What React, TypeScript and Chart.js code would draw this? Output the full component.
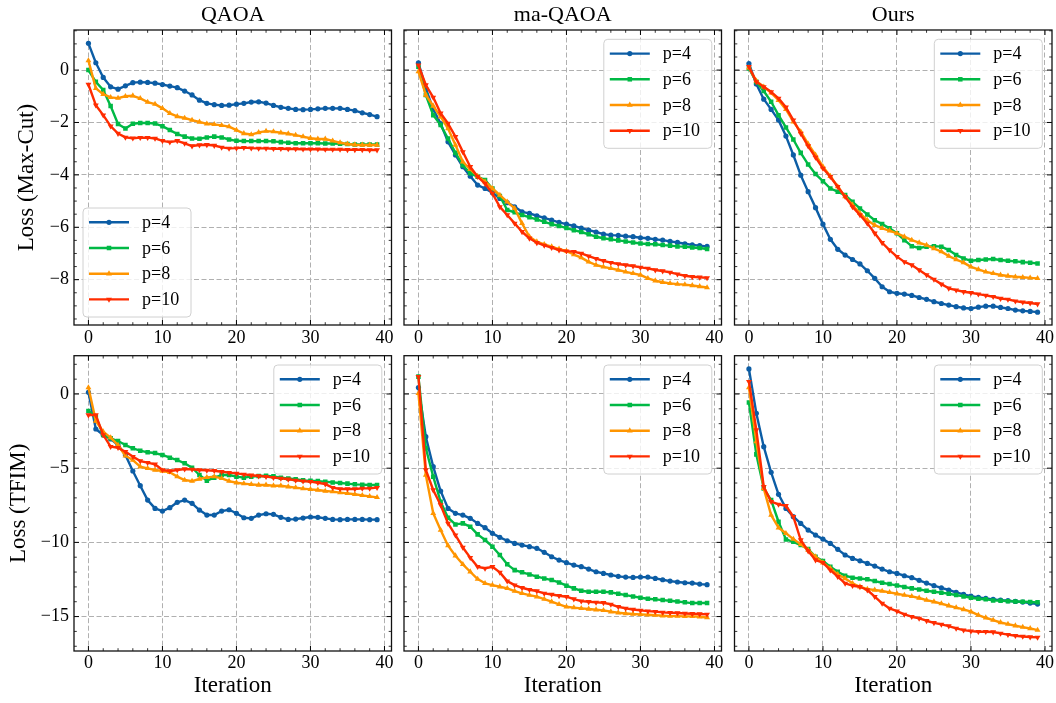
import React, { useEffect, useRef } from 'react';
import { Chart, registerables } from 'chart.js';

Chart.register(...registerables);

// ---------------- data ----------------
const ITERATIONS = [0, 1, 2, 3, 4, 5, 6, 7, 8, 9, 10, 11, 12, 13, 14, 15, 16, 17, 18, 19, 20, 21, 22, 23, 24, 25, 26, 27, 28, 29, 30, 31, 32, 33, 34, 35, 36, 37, 38, 39];
const SERIES_LABELS = ['p=4', 'p=6', 'p=8', 'p=10'];
const PANEL_TITLES = ['QAOA', 'ma-QAOA', 'Ours'];
const ROW_LABELS = ['Loss (Max-Cut)', 'Loss (TFIM)'];
const X_LABEL = 'Iteration';

const X_TICKS = [0, 10, 20, 30, 40];
const X_TICK_LABELS = ['0', '10', '20', '30', '40'];
const Y_TICKS_MAXCUT = [-8, -6, -4, -2, 0];
const Y_TICK_LABELS_MAXCUT = ['\u22128', '\u22126', '\u22124', '\u22122', '0'];
const Y_TICKS_TFIM = [-15, -10, -5, 0];
const Y_TICK_LABELS_TFIM = ['\u221215', '\u221210', '\u22125', '0'];

// QAOA, Max-Cut
const QAOA_MAXCUT_P4 = [1.02, 0.28, -0.28, -0.64, -0.73, -0.6, -0.48, -0.46, -0.47, -0.5, -0.55, -0.61, -0.67, -0.8, -0.95, -1.15, -1.27, -1.32, -1.35, -1.34, -1.3, -1.27, -1.22, -1.21, -1.26, -1.35, -1.42, -1.46, -1.5, -1.51, -1.5, -1.48, -1.46, -1.46, -1.46, -1.5, -1.55, -1.63, -1.7, -1.78];
const QAOA_MAXCUT_P6 = [0, -0.45, -0.76, -1.37, -2.06, -2.23, -2.05, -2.02, -2.02, -2.04, -2.14, -2.29, -2.44, -2.54, -2.61, -2.62, -2.57, -2.54, -2.57, -2.65, -2.7, -2.71, -2.71, -2.71, -2.71, -2.72, -2.75, -2.77, -2.79, -2.79, -2.79, -2.79, -2.8, -2.8, -2.81, -2.82, -2.84, -2.84, -2.84, -2.84];
const QAOA_MAXCUT_P8 = [0.36, -0.7, -0.92, -1.04, -1.07, -1.0, -0.98, -1.08, -1.22, -1.3, -1.46, -1.65, -1.77, -1.83, -1.91, -1.98, -2.05, -2.07, -2.11, -2.16, -2.29, -2.42, -2.46, -2.38, -2.33, -2.35, -2.39, -2.43, -2.48, -2.54, -2.6, -2.63, -2.63, -2.7, -2.77, -2.82, -2.85, -2.86, -2.86, -2.86];
const QAOA_MAXCUT_P10 = [-0.55, -1.34, -1.72, -2.14, -2.42, -2.57, -2.6, -2.58, -2.58, -2.61, -2.7, -2.75, -2.7, -2.8, -2.9, -2.86, -2.85, -2.88, -2.95, -2.99, -2.98, -2.96, -2.98, -2.99, -2.99, -3.0, -3.0, -3.01, -3.01, -3.02, -3.02, -3.02, -3.03, -3.03, -3.03, -3.04, -3.04, -3.04, -3.05, -3.05];

// ma-QAOA, Max-Cut
const MA_MAXCUT_P4 = [0.28, -0.7, -1.5, -2.04, -2.74, -3.24, -3.69, -4.05, -4.39, -4.52, -4.68, -4.9, -5.06, -5.22, -5.41, -5.47, -5.56, -5.64, -5.73, -5.81, -5.88, -5.95, -6.03, -6.11, -6.18, -6.26, -6.3, -6.31, -6.34, -6.36, -6.4, -6.42, -6.46, -6.49, -6.54, -6.58, -6.63, -6.67, -6.7, -6.73];
const MA_MAXCUT_P6 = [0.13, -0.95, -1.72, -2.1, -2.61, -3.16, -3.63, -3.94, -4.07, -4.2, -4.52, -4.81, -5.34, -5.43, -5.53, -5.62, -5.7, -5.79, -5.88, -5.95, -6.03, -6.11, -6.18, -6.27, -6.36, -6.42, -6.46, -6.5, -6.54, -6.58, -6.62, -6.64, -6.65, -6.68, -6.7, -6.73, -6.74, -6.77, -6.79, -6.83];
const MA_MAXCUT_P8 = [-0.06, -0.95, -1.37, -1.78, -2.23, -2.86, -3.5, -3.79, -4.05, -4.26, -4.52, -4.77, -5.03, -5.28, -5.85, -6.36, -6.55, -6.65, -6.74, -6.83, -6.91, -7.04, -7.16, -7.32, -7.44, -7.51, -7.57, -7.63, -7.7, -7.76, -7.82, -7.95, -8.04, -8.1, -8.14, -8.17, -8.19, -8.22, -8.26, -8.3];
const MA_MAXCUT_P10 = [0.19, -0.57, -1.04, -1.65, -2.04, -2.54, -3.12, -3.69, -4.07, -4.33, -4.71, -5.22, -5.53, -5.85, -6.17, -6.42, -6.59, -6.69, -6.78, -6.87, -6.91, -6.93, -7.0, -7.1, -7.2, -7.28, -7.35, -7.4, -7.44, -7.48, -7.53, -7.57, -7.63, -7.67, -7.72, -7.79, -7.85, -7.89, -7.91, -7.93];

// Ours, Max-Cut
const OURS_MAXCUT_P4 = [0.25, -0.53, -1.11, -1.5, -1.91, -2.52, -3.24, -4.01, -4.64, -5.25, -5.88, -6.46, -6.84, -7.06, -7.23, -7.4, -7.66, -7.95, -8.27, -8.46, -8.52, -8.55, -8.6, -8.68, -8.75, -8.84, -8.91, -8.97, -9.03, -9.08, -9.1, -9.05, -9.01, -9.01, -9.06, -9.1, -9.16, -9.19, -9.21, -9.24];
const OURS_MAXCUT_P6 = [0.06, -0.45, -0.8, -1.21, -1.72, -2.19, -2.65, -3.16, -3.6, -3.97, -4.24, -4.52, -4.64, -4.77, -5.03, -5.28, -5.51, -5.73, -5.88, -6.04, -6.23, -6.49, -6.72, -6.79, -6.74, -6.72, -6.74, -6.87, -7.06, -7.19, -7.28, -7.25, -7.23, -7.21, -7.25, -7.28, -7.3, -7.33, -7.35, -7.38];
const OURS_MAXCUT_P8 = [0.09, -0.41, -0.64, -0.87, -1.15, -1.5, -1.97, -2.35, -2.82, -3.24, -3.69, -4.05, -4.45, -4.83, -5.15, -5.47, -5.73, -5.92, -6.04, -6.13, -6.23, -6.36, -6.49, -6.59, -6.68, -6.81, -6.93, -7.1, -7.23, -7.35, -7.51, -7.61, -7.7, -7.76, -7.82, -7.86, -7.89, -7.91, -7.93, -7.95];
const OURS_MAXCUT_P10 = [0.13, -0.45, -0.64, -0.83, -1.08, -1.42, -1.91, -2.42, -2.9, -3.33, -3.75, -4.07, -4.45, -4.83, -5.22, -5.53, -5.85, -6.23, -6.59, -6.87, -7.12, -7.32, -7.44, -7.63, -7.82, -7.99, -8.17, -8.33, -8.4, -8.46, -8.5, -8.55, -8.6, -8.65, -8.72, -8.75, -8.82, -8.86, -8.89, -8.93];

// QAOA, TFIM
const QAOA_TFIM_P4 = [0.11, -2.36, -2.76, -3.03, -3.44, -4.11, -5.19, -6.18, -7.15, -7.71, -7.89, -7.66, -7.3, -7.15, -7.37, -7.82, -8.16, -8.16, -7.89, -7.8, -8.04, -8.34, -8.38, -8.16, -8.07, -8.11, -8.31, -8.45, -8.43, -8.36, -8.29, -8.31, -8.38, -8.45, -8.47, -8.45, -8.45, -8.45, -8.47, -8.47];
const QAOA_TFIM_P6 = [-1.15, -1.53, -2.76, -2.99, -3.17, -3.44, -3.66, -3.82, -3.93, -3.98, -4.11, -4.29, -4.45, -4.67, -4.97, -5.46, -5.84, -5.64, -5.46, -5.46, -5.57, -5.64, -5.57, -5.53, -5.51, -5.55, -5.64, -5.69, -5.75, -5.82, -5.84, -5.87, -5.91, -5.96, -6.0, -6.04, -6.09, -6.11, -6.13, -6.13];
const QAOA_TFIM_P8 = [0.43, -1.82, -2.54, -2.94, -3.44, -4.16, -4.45, -4.9, -5.01, -5.12, -5.19, -5.28, -5.57, -5.8, -5.87, -5.73, -5.62, -5.57, -5.69, -5.87, -5.98, -6.04, -6.09, -6.13, -6.13, -6.18, -6.18, -6.25, -6.31, -6.38, -6.43, -6.47, -6.54, -6.58, -6.65, -6.7, -6.76, -6.83, -6.9, -6.97];
const QAOA_TFIM_P10 = [-1.42, -1.42, -2.76, -3.55, -3.62, -3.89, -4.22, -4.52, -4.63, -4.74, -5.12, -5.19, -5.12, -5.06, -5.08, -5.12, -5.15, -5.17, -5.24, -5.3, -5.35, -5.42, -5.48, -5.53, -5.57, -5.64, -5.69, -5.75, -5.82, -5.87, -5.91, -5.98, -6.07, -6.31, -6.4, -6.4, -6.4, -6.36, -6.36, -6.31];

// ma-QAOA, TFIM
const MA_TFIM_P4 = [0.43, -2.88, -4.9, -6.54, -7.71, -8.04, -8.16, -8.38, -8.72, -9.01, -9.39, -9.66, -9.89, -10.07, -10.18, -10.29, -10.4, -10.67, -10.97, -11.19, -11.37, -11.53, -11.64, -11.8, -11.98, -12.09, -12.2, -12.29, -12.34, -12.36, -12.34, -12.34, -12.43, -12.52, -12.61, -12.67, -12.72, -12.74, -12.81, -12.85];
const MA_TFIM_P6 = [1.17, -3.66, -5.57, -7.26, -8.34, -8.79, -8.72, -8.94, -9.46, -9.84, -10.29, -10.85, -11.48, -11.87, -12.02, -12.16, -12.31, -12.43, -12.54, -12.7, -12.92, -13.1, -13.26, -13.33, -13.33, -13.33, -13.37, -13.46, -13.55, -13.64, -13.73, -13.8, -13.84, -13.89, -13.93, -13.98, -14.04, -14.09, -14.09, -14.09];
const MA_TFIM_P8 = [0.04, -5.46, -8.04, -9.17, -10.22, -10.9, -11.48, -11.98, -12.47, -12.76, -12.88, -12.99, -13.1, -13.28, -13.44, -13.55, -13.66, -13.82, -14.0, -14.18, -14.34, -14.4, -14.45, -14.49, -14.54, -14.58, -14.67, -14.74, -14.79, -14.83, -14.85, -14.88, -14.9, -14.94, -14.97, -14.97, -14.99, -14.99, -15.01, -15.06];
const MA_TFIM_P10 = [1.17, -5.12, -6.47, -7.48, -8.72, -9.51, -10.34, -11.03, -11.64, -11.75, -11.64, -12.02, -12.61, -12.88, -13.06, -13.19, -13.28, -13.44, -13.51, -13.6, -13.66, -13.82, -13.96, -14.0, -14.04, -14.07, -14.18, -14.34, -14.45, -14.52, -14.58, -14.63, -14.67, -14.72, -14.74, -14.76, -14.79, -14.81, -14.83, -14.85];

// Ours, TFIM
const OURS_TFIM_P4 = [1.69, -1.3, -3.55, -5.28, -6.76, -7.71, -8.27, -8.72, -9.17, -9.51, -9.78, -10.07, -10.47, -10.85, -11.08, -11.24, -11.42, -11.6, -11.8, -11.98, -12.09, -12.25, -12.38, -12.56, -12.74, -12.92, -13.06, -13.21, -13.37, -13.51, -13.62, -13.71, -13.78, -13.84, -13.89, -13.93, -13.98, -14.02, -14.09, -14.16];
const OURS_TFIM_P6 = [-0.58, -4.07, -6.36, -7.15, -8.61, -9.8, -9.96, -10.18, -10.45, -10.97, -11.26, -11.64, -11.98, -12.25, -12.38, -12.43, -12.49, -12.61, -12.72, -12.81, -12.9, -13.01, -13.1, -13.17, -13.26, -13.33, -13.39, -13.46, -13.55, -13.64, -13.73, -13.8, -13.84, -13.91, -13.93, -13.96, -13.98, -14.0, -14.02, -14.04];
const OURS_TFIM_P8 = [0.43, -3.21, -6.36, -8.16, -9.01, -9.39, -9.78, -10.13, -10.52, -10.97, -11.37, -11.75, -12.16, -12.43, -12.76, -12.99, -13.15, -13.21, -13.28, -13.37, -13.46, -13.55, -13.64, -13.75, -13.89, -14.0, -14.13, -14.27, -14.4, -14.52, -14.67, -14.9, -15.08, -15.24, -15.4, -15.51, -15.62, -15.71, -15.8, -15.91];
const OURS_TFIM_P10 = [0.83, -2.43, -6.25, -7.26, -7.44, -7.53, -8.27, -9.84, -10.58, -11.19, -11.37, -11.87, -12.31, -12.76, -12.92, -12.99, -13.21, -13.66, -14.11, -14.45, -14.63, -14.85, -15.01, -15.12, -15.28, -15.42, -15.53, -15.64, -15.8, -15.91, -15.98, -16.02, -16.02, -16.04, -16.13, -16.22, -16.29, -16.34, -16.38, -16.4];

// ---------------- styling / layout ----------------
const FONT = '"Liberation Serif", "Times New Roman", serif';
const COLORS = ['#0C5DA5', '#00B945', '#FF9500', '#FF2C00'];
const POINT_STYLES = ['circle', 'rect', 'triangle', 'triangle'];
const POINT_ROTATIONS = [0, 0, 0, 180];
const POINT_RADII = [2.6, 3.2, 3.4, 3.4];
const LINE_WIDTH = 2.4;

const PLOT_W = 317.5;
const COLS = [
  { canvasLeft: 0, canvasW: 398, plotLeft: 74 },
  { canvasLeft: 398, canvasW: 330, plotLeft: 404 },
  { canvasLeft: 728, canvasW: 328, plotLeft: 734.5 },
];
const ROWS = [
  {
    canvasTop: 0, canvasH: 352, plotTop: 30, plotBottom: 325,
    yMin: -9.73, yMax: 1.53, yTicks: Y_TICKS_MAXCUT, yLabels: Y_TICK_LABELS_MAXCUT, yMinor: 0.5,
    yTitle: ROW_LABELS[0], yTitlePad: 13.5, showTitle: true, xTitle: '', xTickPad: 2.5,
  },
  {
    canvasTop: 335, canvasH: 368, plotTop: 355.7, plotBottom: 651,
    yMin: -17.32, yMax: 2.58, yTicks: Y_TICKS_TFIM, yLabels: Y_TICK_LABELS_TFIM, yMinor: 1,
    yTitle: ROW_LABELS[1], yTitlePad: 5.5, showTitle: false, xTitle: X_LABEL, xTickPad: 1,
  },
];

const PANELS = [
  { row: 0, col: 0, series: [QAOA_MAXCUT_P4, QAOA_MAXCUT_P6, QAOA_MAXCUT_P8, QAOA_MAXCUT_P10], legend: 'lower left' },
  { row: 0, col: 1, series: [MA_MAXCUT_P4, MA_MAXCUT_P6, MA_MAXCUT_P8, MA_MAXCUT_P10], legend: 'upper right' },
  { row: 0, col: 2, series: [OURS_MAXCUT_P4, OURS_MAXCUT_P6, OURS_MAXCUT_P8, OURS_MAXCUT_P10], legend: 'upper right' },
  { row: 1, col: 0, series: [QAOA_TFIM_P4, QAOA_TFIM_P6, QAOA_TFIM_P8, QAOA_TFIM_P10], legend: 'upper right' },
  { row: 1, col: 1, series: [MA_TFIM_P4, MA_TFIM_P6, MA_TFIM_P8, MA_TFIM_P10], legend: 'upper right' },
  { row: 1, col: 2, series: [OURS_TFIM_P4, OURS_TFIM_P6, OURS_TFIM_P8, OURS_TFIM_P10], legend: 'upper right' },
];

// ---------------- plugins ----------------
function drawMarker(ctx: CanvasRenderingContext2D, style: string, x: number, y: number, r: number, rotDeg: number) {
  ctx.beginPath();
  if (style === 'circle') {
    ctx.arc(x, y, r, 0, Math.PI * 2);
  } else if (style === 'rect') {
    const s = r / Math.SQRT2;
    ctx.rect(x - s, y - s, 2 * s, 2 * s);
  } else {
    let rad = (rotDeg * Math.PI) / 180;
    const step = (2 * Math.PI) / 3;
    ctx.moveTo(x + Math.sin(rad) * r, y - Math.cos(rad) * r);
    rad += step;
    ctx.lineTo(x + Math.sin(rad) * r, y - Math.cos(rad) * r);
    rad += step;
    ctx.lineTo(x + Math.sin(rad) * r, y - Math.cos(rad) * r);
    ctx.closePath();
  }
  ctx.fill();
}

const legendPlugin = {
  id: 'sciLegend',
  afterDatasetsDraw(chart: any, _args: any, opts: any) {
    const { ctx, chartArea: a } = chart;
    const w = 108;
    const h = 109;
    const x0 = opts.loc === 'lower left' ? a.left + 9 : a.right - 9.7 - w;
    const y0 = opts.loc === 'lower left' ? a.bottom - 8 - h : a.top + 9.3;
    const rr = 4;
    ctx.save();
    ctx.beginPath();
    ctx.moveTo(x0 + rr, y0);
    ctx.arcTo(x0 + w, y0, x0 + w, y0 + h, rr);
    ctx.arcTo(x0 + w, y0 + h, x0, y0 + h, rr);
    ctx.arcTo(x0, y0 + h, x0, y0, rr);
    ctx.arcTo(x0, y0, x0 + w, y0, rr);
    ctx.closePath();
    ctx.fillStyle = 'rgba(255,255,255,0.8)';
    ctx.fill();
    ctx.lineWidth = 1;
    ctx.strokeStyle = '#d0d0d0';
    ctx.stroke();
    chart.data.datasets.forEach((ds: any, i: number) => {
      const y = y0 + 14.3 + i * 25.7;
      ctx.strokeStyle = ds.borderColor;
      ctx.fillStyle = ds.borderColor;
      ctx.lineWidth = LINE_WIDTH;
      ctx.beginPath();
      ctx.moveTo(x0 + 6, y);
      ctx.lineTo(x0 + 46, y);
      ctx.stroke();
      drawMarker(ctx, ds.pointStyle, x0 + 26, y, ds.pointRadius, ds.pointRotation || 0);
      ctx.fillStyle = '#000';
      ctx.font = `18px ${FONT}`;
      ctx.textAlign = 'left';
      ctx.textBaseline = 'middle';
      ctx.fillText(ds.label, x0 + 59, y + 1);
    });
    ctx.restore();
  },
};

const axisDecorPlugin = {
  id: 'axisDecor',
  afterDraw(chart: any, _args: any, opts: any) {
    const { ctx, chartArea: a, scales } = chart;
    const xs = scales.x;
    const ys = scales.y;
    const isMajor = (arr: number[], v: number) => arr.some((m) => Math.abs(m - v) < 1e-6);
    ctx.save();
    ctx.strokeStyle = '#000';
    const xTick = (v: number, len: number, lw: number) => {
      const px = xs.getPixelForValue(v);
      ctx.lineWidth = lw;
      ctx.beginPath();
      ctx.moveTo(px, a.bottom);
      ctx.lineTo(px, a.bottom - len);
      ctx.moveTo(px, a.top);
      ctx.lineTo(px, a.top + len);
      ctx.stroke();
    };
    const yTick = (v: number, len: number, lw: number) => {
      const py = ys.getPixelForValue(v);
      ctx.lineWidth = lw;
      ctx.beginPath();
      ctx.moveTo(a.left, py);
      ctx.lineTo(a.left + len, py);
      ctx.moveTo(a.right, py);
      ctx.lineTo(a.right - len, py);
      ctx.stroke();
    };
    X_TICKS.forEach((v) => xTick(v, 5, 1));
    for (let v = Math.ceil(xs.min / opts.minorX) * opts.minorX; v <= xs.max + 1e-9; v += opts.minorX) {
      if (!isMajor(X_TICKS, v)) xTick(v, 2.8, 0.8);
    }
    opts.majorY.forEach((v: number) => yTick(v, 5, 1));
    for (let v = Math.ceil(ys.min / opts.minorY) * opts.minorY; v <= ys.max + 1e-9; v += opts.minorY) {
      if (!isMajor(opts.majorY, v)) yTick(v, 2.8, 0.8);
    }
    ctx.lineWidth = 1.3;
    ctx.strokeStyle = '#111';
    ctx.strokeRect(a.left, a.top, a.right - a.left, a.bottom - a.top);
    ctx.restore();
  },
};

function buildConfig(panel: any) {
  const row = ROWS[panel.row];
  const col = COLS[panel.col];
  const yWidth = col.plotLeft - col.canvasLeft;
  const padRight = col.canvasLeft + col.canvasW - (col.plotLeft + PLOT_W);
  const xHeight = row.canvasTop + row.canvasH - row.plotBottom;
  const titleLine = 22 * 1.2;
  const padTop = row.showTitle ? 0 : row.plotTop - row.canvasTop;
  const titlePadBottom = row.plotTop - row.canvasTop - 2 - titleLine;
  const isLeft = panel.col === 0;

  return {
    type: 'line',
    data: {
      datasets: panel.series.map((vals: number[], k: number) => ({
        label: SERIES_LABELS[k],
        data: vals.map((v, i) => ({ x: ITERATIONS[i], y: v })),
        borderColor: COLORS[k],
        backgroundColor: COLORS[k],
        pointBackgroundColor: COLORS[k],
        borderWidth: LINE_WIDTH,
        borderJoinStyle: 'round',
        pointStyle: POINT_STYLES[k],
        pointRadius: POINT_RADII[k],
        pointRotation: POINT_ROTATIONS[k],
        pointBorderWidth: 0,
        tension: 0,
        order: 3 - k,
      })),
    },
    options: {
      animation: false,
      responsive: false,
      events: [],
      layout: { padding: { top: padTop, right: padRight, left: 0, bottom: 0 } },
      scales: {
        x: {
          type: 'linear',
          min: -1.95,
          max: 40.95,
          afterBuildTicks: (s: any) => {
            s.ticks = X_TICKS.map((v) => ({ value: v }));
          },
          afterFit: (s: any) => {
            s.height = xHeight;
            s.paddingLeft = 0;
            s.paddingRight = 0;
          },
          ticks: {
            autoSkip: false,
            maxRotation: 0,
            minRotation: 0,
            padding: row.xTickPad,
            color: '#000',
            font: { family: FONT, size: 18 },
            callback: (value: number) => {
              const idx = X_TICKS.indexOf(value);
              return idx >= 0 ? X_TICK_LABELS[idx] : '';
            },
          },
          grid: { color: '#b0b0b0', lineWidth: 1, drawTicks: false },
          border: { display: false, dash: [5, 2.5] },
          title: {
            display: !!row.xTitle,
            text: row.xTitle,
            color: '#000',
            font: { family: FONT, size: 23 },
            padding: { top: 0, bottom: 3.4 },
          },
        },
        y: {
          type: 'linear',
          position: 'left',
          min: row.yMin,
          max: row.yMax,
          afterBuildTicks: (s: any) => {
            s.ticks = row.yTicks.map((v: number) => ({ value: v }));
          },
          afterFit: (s: any) => {
            s.width = yWidth;
            s.paddingTop = 0;
            s.paddingBottom = 0;
          },
          ticks: {
            display: isLeft,
            padding: 5,
            color: '#000',
            font: { family: FONT, size: 18 },
            callback: (value: number) => {
              const idx = row.yTicks.indexOf(value);
              return idx >= 0 ? row.yLabels[idx] : '';
            },
          },
          grid: { color: '#b0b0b0', lineWidth: 1, drawTicks: false },
          border: { display: false, dash: [5, 2.5] },
          title: {
            display: isLeft,
            text: row.yTitle,
            color: '#000',
            font: { family: FONT, size: 23 },
            padding: { top: row.yTitlePad, bottom: 0 },
          },
        },
      },
      plugins: {
        legend: { display: false },
        tooltip: { enabled: false },
        title: {
          display: row.showTitle,
          text: PANEL_TITLES[panel.col],
          fullSize: false,
          color: '#000',
          font: { family: FONT, size: 22, weight: 'normal' },
          padding: { top: 2, bottom: titlePadBottom },
        },
        sciLegend: { loc: panel.legend },
        axisDecor: { minorX: 2, minorY: row.yMinor, majorY: row.yTicks },
      },
    },
    plugins: [legendPlugin, axisDecorPlugin],
  };
}

function Panel({ panel }: { panel: any }) {
  const ref = useRef<HTMLCanvasElement>(null);
  const row = ROWS[panel.row];
  const col = COLS[panel.col];
  useEffect(() => {
    if (!ref.current) return;
    const chart = new Chart(ref.current, buildConfig(panel) as any);
    return () => chart.destroy();
  }, []);
  return (
    <canvas
      ref={ref}
      width={col.canvasW}
      height={row.canvasH}
      style={{ position: 'absolute', left: col.canvasLeft, top: row.canvasTop, width: col.canvasW, height: row.canvasH }}
    />
  );
}

export default function App() {
  return (
    <div style={{ position: 'absolute', left: 0, top: 0, width: 1056, height: 703, background: '#fff', overflow: 'hidden' }}>
      {PANELS.map((p, i) => (
        <Panel key={i} panel={p} />
      ))}
    </div>
  );
}
